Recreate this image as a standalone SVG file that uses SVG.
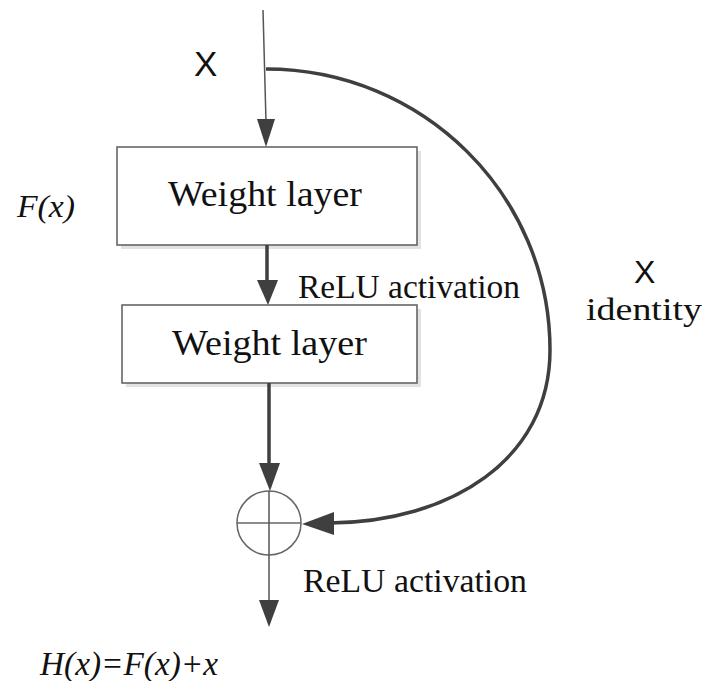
<svg xmlns="http://www.w3.org/2000/svg" width="705" height="681" viewBox="0 0 705 681">
<style>
.serif{font-family:"Liberation Serif","DejaVu Serif",serif;fill:#111}
.it{font-style:italic}
.sans{font-family:"Liberation Sans","DejaVu Sans",sans-serif;fill:#111}
.box{fill:#fff;stroke:#666;stroke-width:1.6}
.shadow{fill:#e2e2e2;stroke:none}
.thin{stroke:#555;stroke-width:1.5;fill:none}
.thick{stroke:#3f3f3f;stroke-width:3.5;fill:none}
.head{fill:#3f3f3f;stroke:none}
</style>
<rect width="705" height="681" fill="#fff"/>
<g id="input-x">
<text class="sans" x="194" y="76" font-size="35">X</text>
</g>
<g id="fx-label">
<text class="serif it" x="17" y="217" font-size="32" textLength="58" lengthAdjust="spacingAndGlyphs">F(x)</text>
</g>
<g id="weight-layer-1">
<rect class="shadow" x="121" y="151" width="300" height="98"/>
<rect class="box" x="117" y="147" width="300" height="98"/>
<text class="serif" x="265" y="206" font-size="36" text-anchor="middle" textLength="194" lengthAdjust="spacingAndGlyphs">Weight layer</text>
</g>
<g id="relu-1">
<text class="serif" x="298" y="298" font-size="33" textLength="222" lengthAdjust="spacingAndGlyphs">ReLU activation</text>
</g>
<g id="weight-layer-2">
<rect class="shadow" x="126" y="309" width="295" height="78"/>
<rect class="box" x="122" y="305" width="295" height="78"/>
<text class="serif" x="172" y="355" font-size="36" textLength="195" lengthAdjust="spacingAndGlyphs">Weight layer</text>
</g>
<g id="sum">
<circle cx="269" cy="523" r="32" fill="#fff" stroke="#666" stroke-width="1.5"/>
<line x1="237" y1="523" x2="301" y2="523" stroke="#666" stroke-width="1.5"/>
</g>
<g id="relu-2">
<text class="serif" x="303" y="592" font-size="33" textLength="224" lengthAdjust="spacingAndGlyphs">ReLU activation</text>
</g>
<g id="identity-label">
<text class="sans" x="634" y="283" font-size="32">X</text>
<text class="serif" x="586" y="320" font-size="32" textLength="116" lengthAdjust="spacingAndGlyphs">identity</text>
</g>
<g id="output-label">
<text class="serif it" x="40" y="675" font-size="33" textLength="178" lengthAdjust="spacingAndGlyphs">H(x)=F(x)+x</text>
</g>
<g id="connectors">
<line class="thin" x1="263" y1="10" x2="266" y2="122"/>
<polygon class="head" points="257,119 275,119 266,147"/>
<path class="thick" d="M266,69 C423,69 550,195 550,350 C550,460 450,522 330,523"/>
<polygon class="head" points="302,524 334,512 334,535"/>
<line class="thick" x1="267" y1="245" x2="267" y2="282"/>
<polygon class="head" points="257,280 278,280 268,305"/>
<line class="thick" x1="269" y1="383" x2="269" y2="465"/>
<polygon class="head" points="259,463 280,463 270,491"/>
<line class="thin" x1="269" y1="491" x2="269" y2="602"/>
<polygon class="head" points="259,600 279,600 269,627"/>
</g>
</svg>
